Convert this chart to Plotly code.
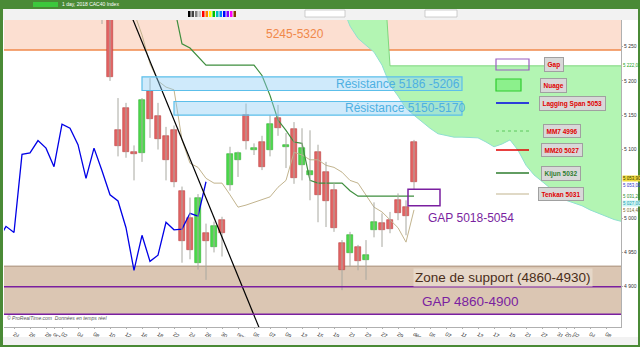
import plotly.graph_objects as go
import pandas as pd

# ---------------- DATA ----------------
sessions = [d.strftime("%Y-%m-%d") for d in pd.bdate_range("2018-09-24", "2019-01-10")
            if d.strftime("%Y-%m-%d") not in ("2018-12-25", "2018-12-26")]

candle_dates = ["2018-10-09", "2018-10-10", "2018-10-11", "2018-10-12", "2018-10-15", "2018-10-16",
                "2018-10-17", "2018-10-18", "2018-10-19", "2018-10-22", "2018-10-23", "2018-10-24",
                "2018-10-25", "2018-10-26", "2018-10-29", "2018-10-30", "2018-10-31", "2018-11-01",
                "2018-11-02", "2018-11-05", "2018-11-06", "2018-11-07", "2018-11-08", "2018-11-09",
                "2018-11-12", "2018-11-13", "2018-11-14", "2018-11-15", "2018-11-16", "2018-11-19",
                "2018-11-20", "2018-11-21", "2018-11-22", "2018-11-23", "2018-11-26", "2018-11-27",
                "2018-11-28", "2018-11-29", "2018-11-30", "2018-12-03"]
opens  = [5330, 5330, 5128, 5160, 5096, 5095, 5186, 5149, 5119, 5129, 5040, 5000,
          4934, 4978, 4958, 4997, 5049, 5085, 5151, 5100, 5111, 5099, 5146, 5103,
          5130, 5077, 5063, 5096, 5067, 5041, 4964, 4949, 4958, 4939, 4983, 4993,
          4997, 5026, 5016, 5111]
highs  = [5345, 5335, 5175, 5168, 5106, 5175, 5204, 5168, 5133, 5135, 5046, 5030,
          5035, 4992, 4995, 5002, 5104, 5097, 5167, 5109, 5120, 5150, 5165, 5124,
          5140, 5131, 5128, 5107, 5082, 5051, 4968, 4980, 4961, 4968, 5023, 5007,
          5009, 5036, 5026, 5114]
lows   = [5283, 5200, 5090, 5088, 5055, 5082, 5117, 5100, 5055, 5045, 4935, 4940,
          4925, 4910, 4950, 4944, 5040, 5060, 5100, 5092, 5070, 5090, 5120, 5073,
          5050, 5055, 5026, 4994, 4987, 4980, 4895, 4929, 4924, 4910, 4972, 4958,
          4978, 4997, 4975, 5041]
closes = [5318, 5206, 5105, 5096, 5094, 5172, 5145, 5116, 5085, 5053, 4967, 4953,
          5030, 4967, 4988, 4979, 5093, 5095, 5113, 5102, 5075, 5137, 5131, 5107,
          5058, 5102, 5069, 5034, 5025, 4986, 4924, 4975, 4937, 4946, 4994, 4983,
          4984, 5007, 5003, 5053]

tenkan_dates = sessions[15:51]
tenkan = [5300, 5267, 5225, 5200, 5191, 5187, 5114, 5080, 5074, 5058, 5051, 5051,
          5034, 5016, 5019, 5023, 5026, 5031, 5045, 5055, 5096, 5092, 5085, 5085,
          5077, 5074, 5067, 5055, 5051, 5034, 5016, 5009, 4997, 4986, 4965, 5012]

kijun_dates = sessions[20:51]
kijun = [5310, 5254, 5248, 5236, 5223, 5223, 5223, 5223, 5223, 5223, 5223, 5208,
         5179, 5143, 5128, 5111, 5109, 5055, 5051, 5051, 5051, 5051, 5040, 5032,
         5032, 5032, 5032, 5032, 5032, 5032, 5032]

cloud_dates = sessions[41:77]
senkou_a = [5310, 5280, 5262, 5252, 5242, 5223, 5194, 5178, 5160, 5150, 5140, 5131,
            5123, 5120, 5118, 5118, 5117, 5117, 5111, 5104, 5108, 5114, 5099, 5077,
            5063, 5053, 5044, 5035, 5026, 5022, 5018, 5012, 5007, 5003, 4998, 4995]
senkou_b = [5400, 5400, 5400, 5400, 5400, 5400, 5222, 5222, 5222, 5222, 5222, 5222,
            5222, 5222, 5222, 5222, 5222, 5222, 5222, 5222, 5222, 5222, 5222, 5222,
            5222, 5222, 5222, 5222, 5222, 5222, 5222, 5222, 5222, 5222, 5222, 5222]

lag_shift = 26
trend_dates = ["2018-10-12", "2018-11-06"]
trend_vals = [5314, 4830]

tick_dates = ["2018-09-24", "2018-09-26", "2018-09-28", "2018-10-01", "2018-10-02", "2018-10-04",
              "2018-10-08", "2018-10-10", "2018-10-12", "2018-10-16", "2018-10-18", "2018-10-22",
              "2018-10-24", "2018-10-26", "2018-10-30", "2018-11-01", "2018-11-05", "2018-11-07",
              "2018-11-09", "2018-11-13", "2018-11-15", "2018-11-19", "2018-11-21", "2018-11-23",
              "2018-11-27", "2018-11-29", "2018-12-03", "2018-12-05", "2018-12-07", "2018-12-11",
              "2018-12-13", "2018-12-17", "2018-12-19", "2018-12-21", "2018-12-27", "2018-12-31",
              "2019-01-01", "2019-01-02", "2019-01-04", "2019-01-08"]
tick_text = ["24", "26", "28", "oct.", "02", "04", "08", "10", "12", "16", "18", "22",
             "24", "26", "30", "nov.", "05", "07", "09", "13", "15", "19", "21", "23",
             "27", "29", "déc.", "05", "07", "11", "13", "17", "19", "21", "27", "31",
             "2019", "02", "04", "08"]
y_ticks = [4900, 4950, 5000, 5100, 5150, 5200, 5250]
y_tick_text = ["4 900", "4 950", "5 000", "5 100", "5 150", "5 200", "5 250"]

price_tags = [(5222, "5 222,00", "#22A022", None), (5058, "5 053,90", "#333300", "#F2DC3C"),
              (5047, "5 053,00", "#3030C8", None), (5032, "5 031,20", "#2E8B2E", None),
              (5022, "5 027,00", "#1AA0B0", "#CFF5F5"), (5011, "5 014,43", "#7A6A30", None)]

zone_top = (5245, 5400)
res1 = (5186, 5206)
res2 = (5150, 5170)
gap_hi = (5018, 5042)
support = (4860, 4930)
gap_lo = (4860, 4900)

# ---------------- helpers ----------------
def X(d):
    return sessions.index(d)

W, H = 640, 347
L, R, T, B = 4, 19, 20, 20
PW, PH = W - L - R, H - T - B
def px(x):
    return (x - L) / PW
def py(y):
    return 1 - (y - T) / PH

cx = [X(d) for d in candle_dates]
fig = go.Figure()

# cloud
cx_cloud = [X(d) for d in cloud_dates]
fig.add_trace(go.Scatter(x=cx_cloud, y=senkou_b, mode="lines", line=dict(color="#7ED67E", width=1),
                         hoverinfo="skip", showlegend=False))
fig.add_trace(go.Scatter(x=cx_cloud, y=senkou_a, mode="lines", line=dict(color="#8FE0D0", width=1),
                         fill="tonexty", fillcolor="#B3F5B3", hoverinfo="skip", showlegend=False))

# lagging span (close shifted back)
lag_x = [i - lag_shift for i in cx]
fig.add_trace(go.Scatter(x=lag_x, y=closes, mode="lines", line=dict(color="#0000E6", width=1.3),
                         hoverinfo="skip", showlegend=False))

# tenkan / kijun
fig.add_trace(go.Scatter(x=[X(d) for d in tenkan_dates], y=tenkan, mode="lines",
                         line=dict(color="#C2B48E", width=1), hoverinfo="skip", showlegend=False))
fig.add_trace(go.Scatter(x=[X(d) for d in kijun_dates], y=kijun, mode="lines",
                         line=dict(color="#3E8E3E", width=1.2), hoverinfo="skip", showlegend=False))

# wicks
wx, wy = [], []
for i, h, l in zip(cx, highs, lows):
    wx += [i, i, None]
    wy += [l, h, None]
fig.add_trace(go.Scatter(x=wx, y=wy, mode="lines", line=dict(color="#A8A8A0", width=1),
                         hoverinfo="skip", showlegend=False))

# bodies
up = [k for k in range(len(cx)) if closes[k] >= opens[k]]
dn = [k for k in range(len(cx)) if closes[k] < opens[k]]
fig.add_trace(go.Bar(x=[cx[k] for k in up], base=[opens[k] for k in up],
                     y=[max(closes[k] - opens[k], 2) for k in up], width=0.7,
                     marker=dict(color="#4CDB4C", line=dict(color="#2FAF2F", width=0.6)),
                     hoverinfo="skip", showlegend=False))
fig.add_trace(go.Bar(x=[cx[k] for k in dn], base=[closes[k] for k in dn],
                     y=[max(opens[k] - closes[k], 2) for k in dn], width=0.7,
                     marker=dict(color="#E46464", line=dict(color="#B84040", width=0.6)),
                     hoverinfo="skip", showlegend=False))

# trendline
fig.add_trace(go.Scatter(x=[X(d) for d in trend_dates], y=trend_vals, mode="lines",
                         line=dict(color="#000000", width=1.2), hoverinfo="skip", showlegend=False))

shapes = []
# zones (below)
shapes.append(dict(type="rect", xref="paper", yref="y", x0=0, x1=1, y0=zone_top[0], y1=zone_top[1],
                   fillcolor="#FCDFD1", line=dict(width=0), layer="below"))
shapes.append(dict(type="line", xref="paper", yref="y", x0=0, x1=1, y0=zone_top[0], y1=zone_top[0],
                   line=dict(color="#F0884A", width=1.5), layer="below"))
shapes.append(dict(type="rect", xref="paper", yref="y", x0=0, x1=1, y0=support[0], y1=support[1],
                   fillcolor="#DBC6B3", line=dict(width=0), layer="below"))
shapes.append(dict(type="line", xref="paper", yref="y", x0=0, x1=1, y0=support[1], y1=support[1],
                   line=dict(color="#A58A72", width=1), layer="below"))
for v in gap_lo:
    shapes.append(dict(type="line", xref="paper", yref="y", x0=0, x1=1, y0=v, y1=v,
                       line=dict(color="#7A1FA0", width=1.5), layer="above"))
# resistances
shapes.append(dict(type="rect", xref="x", yref="y", x0=16, x1=56, y0=res1[0], y1=res1[1],
                   fillcolor="rgba(140,205,245,0.42)", line=dict(color="#5CBFEA", width=1.2), layer="above"))
shapes.append(dict(type="rect", xref="x", yref="y", x0=20, x1=56, y0=res2[0], y1=res2[1],
                   fillcolor="rgba(140,205,245,0.42)", line=dict(color="#5CBFEA", width=1.2), layer="above"))
# gap box
shapes.append(dict(type="rect", xref="x", yref="y", x0=49.25, x1=53.25, y0=gap_hi[0], y1=gap_hi[1],
                   fillcolor="rgba(0,0,0,0)", line=dict(color="#7A1FA0", width=1.5), layer="above"))

ann = []
def label(x, y, text, color, size=12, bg=None):
    d = dict(x=x, y=y, xref="x", yref="y", text=text, showarrow=False, xanchor="center",
             font=dict(color=color, size=size, family="Liberation Sans, Arial"))
    if bg:
        d["bgcolor"] = bg
    ann.append(d)

label(35.1, 5268, "5245-5320", "#F0884A")
label(48.0, 5196, "Résistance 5186 -5206", "#4DB0E2")
label(48.9, 5160, "Résistance 5150-5170", "#4DB0E2")
label(57.1, 5000, "GAP 5018-5054", "#7A1FA0")
label(61.1, 4914, "Zone de support (4860-4930)", "#4A2E1A", size=13.5, bg="#E6D7C8")
label(57.0, 4879, "GAP 4860-4900", "#7A1FA0", size=13.5)

# price tags on right axis
for v, t, c, bg in price_tags:
    d = dict(x=px(622), y=v, xref="paper", yref="y", text=t, showarrow=False, xanchor="left",
             yanchor="middle", font=dict(color=c, size=4.5, family="Liberation Sans, Arial"), borderpad=0)
    if bg:
        d["bgcolor"] = bg
    ann.append(d)

# legend panel
leg = [("Gap", 64, 553.5), ("Nuage", 85, 553), ("Lagging Span 5053", 103, 572), ("MM7 4996", 131, 561.5),
       ("MM20 5027", 150, 561.5), ("Kijun 5032", 173, 561), ("Tenkan 5031", 194, 561)]
shapes.append(dict(type="rect", xref="paper", yref="paper", x0=px(496), x1=px(529), y0=py(70), y1=py(59),
                   line=dict(color="#9A5FC0", width=1.2)))
shapes.append(dict(type="rect", xref="paper", yref="paper", x0=px(496), x1=px(521), y0=py(91), y1=py(79),
                   fillcolor="#8CF08C", line=dict(color="#2ECC2E", width=1.2)))
shapes.append(dict(type="line", xref="paper", yref="paper", x0=px(496), x1=px(529), y0=py(103), y1=py(103),
                   line=dict(color="#0000E6", width=1.5)))
shapes.append(dict(type="line", xref="paper", yref="paper", x0=px(496), x1=px(529), y0=py(131), y1=py(131),
                   line=dict(color="#5CC85C", width=1, dash="dot")))
shapes.append(dict(type="line", xref="paper", yref="paper", x0=px(496), x1=px(529), y0=py(150), y1=py(150),
                   line=dict(color="#E00000", width=1.5)))
shapes.append(dict(type="line", xref="paper", yref="paper", x0=px(496), x1=px(529), y0=py(173), y1=py(173),
                   line=dict(color="#2E7D2E", width=1.5)))
shapes.append(dict(type="line", xref="paper", yref="paper", x0=px(496), x1=px(529), y0=py(194), y1=py(194),
                   line=dict(color="#C2B48E", width=1.2)))
for text, ypix, xpix in leg:
    col = "#2E7D2E" if text.startswith("Kijun") else "#E00000"
    ann.append(dict(x=px(xpix), y=py(ypix), xref="paper", yref="paper", text="<b>" + text + "</b>",
                    showarrow=False, xanchor="center", yanchor="middle",
                    font=dict(color=col, size=6.5, family="Liberation Sans, Arial"),
                    bgcolor="#D8D8D8", bordercolor="#A0A0A0", borderwidth=1, borderpad=2.5))

# chrome
chrome_green = "#4A8A36"
shapes.append(dict(type="rect", xref="paper", yref="paper", x0=px(0), x1=px(640), y0=py(8), y1=py(20),
                   fillcolor="#F2F2F2", line=dict(width=0), layer="above"))
shapes.append(dict(type="rect", xref="paper", yref="paper", x0=px(0), x1=px(640), y0=py(9), y1=py(0),
                   fillcolor=chrome_green, line=dict(width=0), layer="above"))
shapes.append(dict(type="rect", xref="paper", yref="paper", x0=px(0), x1=px(640), y0=py(337), y1=py(345),
                   fillcolor="#F2F2F2", line=dict(width=0), layer="above"))
shapes.append(dict(type="rect", xref="paper", yref="paper", x0=px(0), x1=px(640), y0=py(345), y1=py(347),
                   fillcolor=chrome_green, line=dict(width=0), layer="above"))
shapes.append(dict(type="rect", xref="paper", yref="paper", x0=px(0), x1=px(3), y0=py(0), y1=py(347),
                   fillcolor=chrome_green, line=dict(width=0), layer="above"))
shapes.append(dict(type="rect", xref="paper", yref="paper", x0=px(638), x1=px(640), y0=py(0), y1=py(347),
                   fillcolor=chrome_green, line=dict(width=0), layer="above"))
shapes.append(dict(type="rect", xref="paper", yref="paper", x0=px(33), x1=px(58), y0=py(7), y1=py(2),
                   fillcolor="#3CC83C", line=dict(width=0), layer="above"))
shapes.append(dict(type="rect", xref="paper", yref="paper", x0=px(305), x1=px(345), y0=py(17), y1=py(10),
                   fillcolor="#FFFFFF", line=dict(color="#B0B0B0", width=0.6), layer="above"))
shapes.append(dict(type="rect", xref="paper", yref="paper", x0=px(425), x1=px(457), y0=py(17), y1=py(10),
                   fillcolor="#FFFFFF", line=dict(color="#B0B0B0", width=0.6), layer="above"))
# toolbar colour palette
palette = ["#000000", "#404040", "#808080", "#C0C0C0", "#FF0000", "#FF8000", "#FFFF00", "#00C000",
           "#00C0C0", "#0080FF", "#0000FF", "#8000FF", "#FF00FF", "#804000"]
for k, c in enumerate(palette):
    shapes.append(dict(type="rect", xref="paper", yref="paper", x0=px(188 + 3.5 * k), x1=px(190.5 + 3.5 * k),
                       y0=py(17), y1=py(11), fillcolor=c, line=dict(width=0), layer="above"))
ann.append(dict(x=px(60), y=py(4.5), xref="paper", yref="paper", text="1 day, 2018 CAC40 Index",
                showarrow=False, xanchor="left", yanchor="middle", font=dict(color="#FFFFFF", size=5)))
ann.append(dict(x=px(5), y=py(323), xref="paper", yref="paper",
                text="<i>© ProRealTime.com  Données en temps réel</i>", xanchor="left",
                showarrow=False, font=dict(color="#555555", size=5)))

fig.update_layout(
    width=W, height=H, margin=dict(l=L, r=R, t=T, b=B, autoexpand=False),
    paper_bgcolor="#FFFFFF", plot_bgcolor="#FFFFFF",
    barmode="overlay", bargap=0, showlegend=False,
    shapes=shapes, annotations=ann,
    font=dict(family="Liberation Sans, Arial"),
    xaxis=dict(range=[-1.25, 75.875], tickvals=[X(d) for d in tick_dates], ticktext=tick_text,
               tickfont=dict(size=5.5, color="#333333"), showgrid=False, zeroline=False, automargin=False,
               showline=True, linecolor="#B0B0B0", ticks="outside", ticklen=1, tickcolor="#B0B0B0"),
    yaxis=dict(range=[4841.3, 5288.8], side="right", tickvals=y_ticks, ticktext=y_tick_text,
               tickfont=dict(size=5, color="#333333"), showgrid=False, zeroline=False, automargin=False,
               showline=True, linecolor="#B0B0B0", ticks="outside", ticklen=1, tickcolor="#B0B0B0"),
)
fig.write_html("out.html")
